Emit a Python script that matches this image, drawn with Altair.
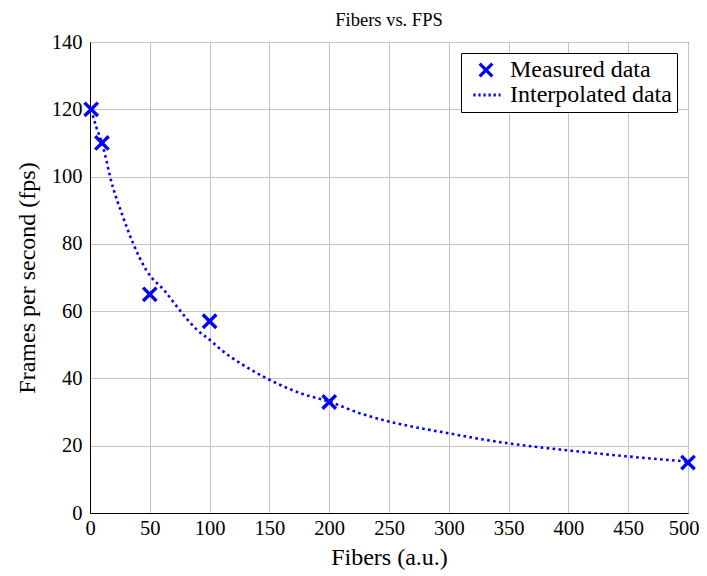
import altair as alt
import pandas as pd

# Measured data
meas_x = [1, 10, 50, 100, 200, 500]
meas_y = [120, 110, 65, 57, 33, 15]

# Interpolated curve
curve_x = [1, 5, 10, 19, 27, 36, 47, 63, 75, 89, 100, 110, 128, 150, 176, 200,
           226, 251, 284, 300, 318, 350, 400, 450, 500]
curve_y = [120, 115, 110, 97, 88.6, 80.2, 72.2, 65.8, 60.3, 54.6, 51.5, 48.4, 44,
           39.6, 35.6, 33.1, 29.6, 27.1, 24.7, 23.7, 22.5, 20.7, 18.6, 16.8, 15.3]

series_names = ["Measured data", "Interpolated data"]
x_ticks = list(range(0, 501, 50))
y_ticks = list(range(0, 141, 20))

FONT = "Liberation Serif"
BLUE = "#0000ff"
CROSS = "M-1,-1L1,1M-1,1L1,-1"
DOTS = "M-2,0H-1.65M-1.2,0H-0.85M-0.4,0H-0.05M0.4,0H0.75M1.2,0H1.55M2,0H2.3"

meas = pd.DataFrame({"x": meas_x, "y": meas_y, "series": series_names[0]})
curve = pd.DataFrame({"x": curve_x, "y": curve_y})

xs = alt.Scale(domain=[0, 500], nice=False)
ys = alt.Scale(domain=[0, 140], nice=False)

line = alt.Chart(curve).mark_line(
    color=BLUE, strokeWidth=2.6, strokeDash=[2.6, 3.4], strokeCap="butt",
    interpolate="monotone"
).encode(
    x=alt.X("x:Q", scale=xs,
            axis=alt.Axis(
                title="Fibers (a.u.)", values=x_ticks,
                labelAlign={"condition": {"test": "datum.value == 500", "value": "right"},
                            "value": "center"},
                labelOffset={"condition": {"test": "datum.value == 500", "value": 11},
                             "value": 0},
            )),
    y=alt.Y("y:Q", scale=ys,
            axis=alt.Axis(title="Frames per second (fps)", values=y_ticks)),
)

points = alt.Chart(meas).mark_point(
    stroke=BLUE, strokeWidth=3.4, size=180, filled=False, opacity=1
).encode(
    x="x:Q",
    y="y:Q",
    shape=alt.Shape("series:N",
                    scale=alt.Scale(domain=series_names, range=[CROSS, DOTS]),
                    legend=alt.Legend(title=None, orient="top-right")),
)

chart = alt.layer(line, points).properties(
    width=598, height=471,
    title=alt.TitleParams("Fibers vs. FPS", font=FONT, fontSize=18.5,
                          fontWeight="normal", color="black", offset=3),
    autosize=alt.AutoSizeParams(type="none"),
    padding={"left": 82, "top": 34, "right": 11, "bottom": 62},
).configure_view(
    stroke="black", strokeWidth=1
).configure_axis(
    labelFont=FONT, titleFont=FONT, labelFontSize=20.5, titleFontSize=24,
    titleFontWeight="normal", labelColor="black", titleColor="black",
    domainColor="black", domainWidth=1, gridColor="#c4c4c4", gridWidth=1,
    ticks=False, labelPadding=5, labelFlush=False,
).configure_axisX(
    titlePadding=7,
).configure_axisY(
    titlePadding=12, labelPadding=8,
).configure_legend(
    labelFont=FONT, labelFontSize=24, labelColor="black", labelLimit=400,
    strokeColor="black", fillColor="white", padding=5,
    symbolStrokeColor=BLUE, symbolStrokeWidth=3.2, symbolSize=160,
    symbolFillColor="transparent", rowPadding=0, labelOffset=12,
    offset=11, symbolOffset=8,
)

chart.save("out.html", embed_options={"renderer": "svg", "actions": False})
